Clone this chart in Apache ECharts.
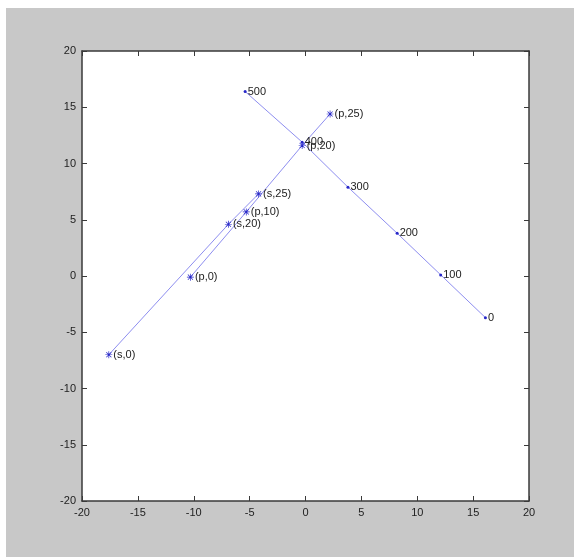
<!DOCTYPE html>
<html>
<head>
<meta charset="utf-8">
<script src="https://cdn.jsdelivr.net/npm/echarts@6/dist/echarts.min.js"></script>
<style>
  html, body { margin: 0; padding: 0; background: #fff; }
  #wrap { position: absolute; left: 6px; top: 8px; width: 568px; height: 549px; background: #c8c8c8; }
  #chart { width: 568px; height: 549px; }
</style>
</head>
<body>
<div id="wrap"><div id="chart"></div></div>
<script>
// decreasing line 500 -> 0
const decLabels = ["500", "400", "300", "200", "100", "0"];
const decX = [-5.4, -0.3, 3.8, 8.2, 12.1, 16.1];
const decY = [16.4, 11.9, 7.9, 3.8, 0.1, -3.7];
// s points
const sLabels = ["(s,0)", "(s,20)", "(s,25)"];
const sX = [-17.6, -6.9, -4.2];
const sY = [-7.0, 4.6, 7.3];
// p points
const pLabels = ["(p,0)", "(p,10)", "(p,20)", "(p,25)"];
const pX = [-10.3, -5.3, -0.3, 2.2];
const pY = [-0.1, 5.7, 11.6, 14.4];
// axis ticks
const axisMin = -20;
const axisMax = 20;
const axisStep = 5;

const lineColor = "#8e8ef0";
const markColor = "#2626c8";
const font = "'Liberation Sans Narrow', 'Liberation Sans', Arial, sans-serif";
const star = "path://M0,4.5L10,4.5L10,5.5L0,5.5Z M4.5,0L5.5,0L5.5,10L4.5,10Z M1,1.7L1.7,1L9,8.3L8.3,9Z M8.3,1L9,1.7L1.7,9L1,8.3Z";

function toData(labels, xs, ys) {
  return labels.map((n, i) => ({ name: n, value: [xs[i], ys[i]] }));
}

function axisBase(pos, showLabel) {
  return {
    type: "value",
    position: pos,
    min: axisMin,
    max: axisMax,
    interval: axisStep,
    splitLine: { show: false },
    axisLine: { show: true, onZero: false, lineStyle: { color: "#3a3a3a", width: 1.5 } },
    axisTick: { show: true, inside: true, length: 5, lineStyle: { color: "#3a3a3a" } },
    axisLabel: { show: showLabel, color: "#222", fontSize: 11, fontFamily: font, margin: 6 },
  };
}

const labelStyle = {
  show: true,
  position: "right",
  distance: 1,
  color: "#222",
  fontSize: 11,
  fontFamily: font,
  formatter: (p) => p.name,
};

const chart = echarts.init(document.getElementById("chart"));
chart.setOption({
  backgroundColor: "#c8c8c8",
  animation: false,
  grid: {
    left: 76,
    top: 43,
    right: 45,
    bottom: 56,
    show: true,
    backgroundColor: "#fff",
    borderWidth: 0,
  },
  xAxis: [axisBase("bottom", true), axisBase("top", false)],
  yAxis: [axisBase("left", true), axisBase("right", false)],
  series: [
    {
      type: "line",
      data: toData(decLabels, decX, decY),
      symbol: "circle",
      symbolSize: 3,
      itemStyle: { color: markColor },
      lineStyle: { color: lineColor, width: 1 },
      label: labelStyle,
    },
    {
      type: "line",
      data: toData(sLabels, sX, sY),
      symbol: star,
      symbolSize: 7,
      itemStyle: { color: markColor },
      lineStyle: { color: lineColor, width: 1 },
      label: labelStyle,
    },
    {
      type: "line",
      data: toData(pLabels, pX, pY),
      symbol: star,
      symbolSize: 7,
      itemStyle: { color: markColor },
      lineStyle: { color: lineColor, width: 1 },
      label: labelStyle,
    },
  ],
});
</script>
</body>
</html>
